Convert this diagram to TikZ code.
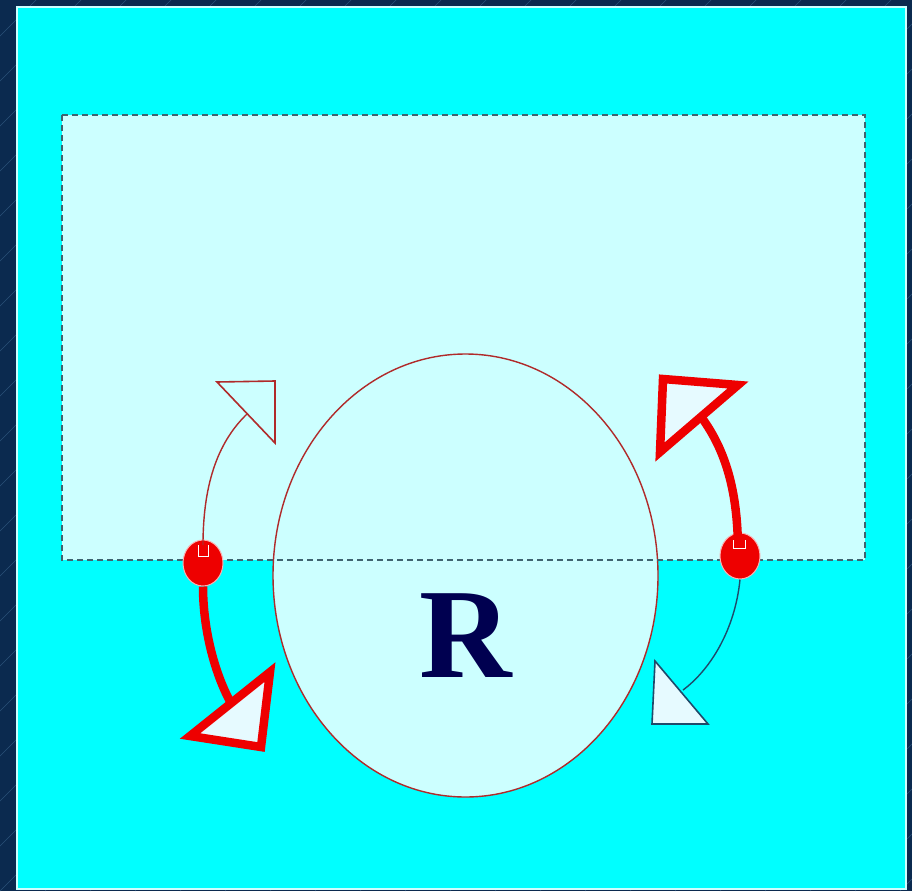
\documentclass[tikz,border=0pt]{standalone}
\usepackage{fontspec}
\setmainfont{Liberation Serif}
\usetikzlibrary{shapes.geometric}
\definecolor{navybg}{HTML}{0B2A4F}
\definecolor{stripe}{HTML}{2A5078}
\definecolor{panel}{HTML}{00FFFF}
\definecolor{pale}{HTML}{CCFFFF}
\definecolor{rimred}{HTML}{B02A2A}
\definecolor{hotred}{HTML}{EE0000}
\definecolor{dashgray}{HTML}{3F6470}
\definecolor{letter}{HTML}{000050}
\definecolor{thinblue}{HTML}{1F4A6A}
\definecolor{tipfill}{HTML}{E6FAFF}
\tikzset{
  thinarc/.style={line width=1.4pt},
  thickarc/.style={draw=hotred, line width=8.5pt},
  thintip/.style={line width=1.6pt, line join=miter},
  thicktip/.style={draw=hotred, fill=tipfill, line width=8.5pt, line join=miter},
  dotnode/.style={ellipse, fill=hotred, draw=white!70!hotred, line width=1pt, minimum width=40pt, minimum height=46pt, inner sep=0pt},
}
\begin{document}
\begin{tikzpicture}[x=1pt,y=-1pt]
\useasboundingbox (0,0) rectangle (912,891);
\fill[navybg] (0,0) rectangle (912,891);
\begin{scope}
\clip (0,0) rectangle (912,891);
\foreach \k in {0,45,...,1845} {
  \draw[stripe, line width=0.5pt] (\k-900,891) -- (\k,-9);
}
\end{scope}
% panel
\fill[panel] (17,7) rectangle (906,889);
\draw[pale, line width=1.5pt] (17,7) rectangle (906,889);
% pale rectangle
\fill[pale] (62,115) rectangle (865,560);
% big ellipse
\node[ellipse, draw=rimred, fill=pale, line width=1.4pt, minimum width=385pt, minimum height=443pt, inner sep=0pt] (big) at (465.5,575.5) {};
\node[text=letter, font=\fontsize{128}{128}\selectfont\bfseries] (R) at (466,636) {R};
% dashed border
\draw[dashgray, line width=1.6pt, dash pattern=on 6pt off 4pt] (62,115) rectangle (865,560);
% dots
\node[dotnode] (ldot) at (203,563) {};
\node[dotnode] (rdot) at (740,556) {};
% end coordinates
\coordinate (lupend) at (247,414);
\coordinate (ldnend) at (232,705);
\coordinate (rupend) at (702,418);
\coordinate (rdnend) at (683,690);
% left upper thin arrow
\draw[rimred, thinarc] (203,545) .. controls (203,480) and (220,440) .. (lupend);
\draw[rimred, thintip] (217,382) -- (275,381) -- (275,443) -- cycle;
% left lower thick arrow
\draw[thickarc] (ldot.south) .. controls (203,630) and (215,675) .. (ldnend);
\draw[thicktip] (190,736) -- (270,672) -- (261,747) -- cycle;
% right upper thick arrow
\draw[thickarc] (738,552) .. controls (738,490) and (725,450) .. (rupend);
\draw[thicktip] (663,379) -- (738,385) -- (660,452) -- cycle;
% right lower thin arrow
\draw[thinblue, thinarc] (rdot.south) .. controls (735,630) and (710,670) .. (rdnend);
\draw[thinblue, thintip, fill=tipfill] (655,661) -- (708,724) -- (652,724) -- cycle;
% dot inner marks
\draw[white, line width=1pt] (198,545) -- (198,556) -- (208,556) -- (208,545);
\draw[white, line width=1pt] (733,540) -- (733,548) -- (745,548) -- (745,540);
\end{tikzpicture}
\end{document}
